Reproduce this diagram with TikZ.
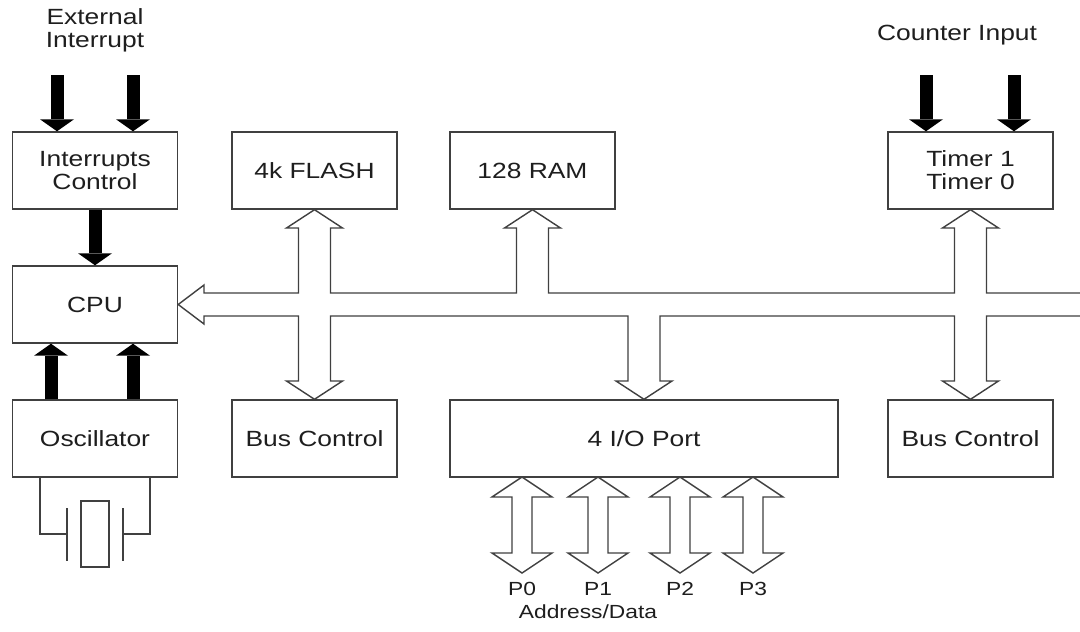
\documentclass[tikz,border=0pt]{standalone}
\usepackage{fontspec}
\setmainfont{Liberation Sans}[FakeStretch=1.2]
\usetikzlibrary{arrows.meta}
\definecolor{linegray}{HTML}{404040}
\definecolor{textgray}{HTML}{1E1E1E}

\begin{document}
\begin{tikzpicture}[x=1pt, y=-1pt, line join=miter,
    every node/.style={text=textgray, font=\fontsize{22}{23}\selectfont},
    block/.style={draw=linegray, line width=1.4pt, minimum width=165pt, minimum height=77pt, align=center, inner sep=0pt},
    fatarrow/.style={line width=13pt, -{Triangle[length=12pt, width=34pt, line width=0pt]}},
    wire/.style={draw=linegray, line width=1.4pt}]
    \path[use as bounding box, fill=white] (0,0) rectangle (1080,632);

    % Blocks
    \node[block] (intc) at (95,170.5) {Interrupts\\Control};
    \node[block] (flash) at (314.5,170.5) {4k FLASH};
    \node[block] (ram) at (532.5,170.5) {128 RAM};
    \node[block] (timer) at (970.5,170.5) {Timer 1\\Timer 0};
    \node[block] (cpu) at (95,304.5) {CPU};
    \node[block] (osc) at (95,438.5) {Oscillator};
    \node[block] (busc1) at (314.5,438.5) {Bus Control};
    \node[block, minimum width=388pt] (io) at (644,438.5) {4 I/O Port};
    \node[block] (busc2) at (970.5,438.5) {Bus Control};

    % Outside labels
    \node[align=center] (extint) at (95,30) {External\\Interrupt};
    \node (cntin) at (957,35) {Counter Input};
    \node[font=\fontsize{19}{21}\selectfont] (addr) at (588,612) {Address/Data};

    % Interrupt and counter inputs
    \coordinate (ei1) at (57,75);
    \coordinate (ei2) at (133,75);
    \coordinate (ci1) at (926,75);
    \coordinate (ci2) at (1014,75);
    \draw[fatarrow] (ei1) -- (ei1 |- intc.north);
    \draw[fatarrow] (ei2) -- (ei2 |- intc.north);
    \draw[fatarrow] (ci1) -- (ci1 |- timer.north);
    \draw[fatarrow] (ci2) -- (ci2 |- timer.north);

    % Interrupts -> CPU, Oscillator -> CPU
    \draw[fatarrow] (intc.south) -- (cpu.north);
    \draw[fatarrow] ([xshift=-44pt]osc.north) -- ([xshift=-44pt]cpu.south);
    \draw[fatarrow] ([xshift=38pt]osc.north) -- ([xshift=38pt]cpu.south);

    % Crystal
    \node[draw=linegray, line width=1.4pt, minimum width=28pt, minimum height=66pt, inner sep=0pt] (xtal) at (95,534) {};
    \coordinate (plL) at (67,534);
    \coordinate (plR) at (123,534);
    \draw[wire] ([xshift=-55pt]osc.south) |- (plL);
    \draw[wire] ([xshift=55pt]osc.south) |- (plR);
    \draw[wire] (67,508) -- (67,561);
    \draw[wire] (123,508) -- (123,561);

    % Internal bus with its branches
    \coordinate (bustop) at (1080,293);
    \coordinate (busbot) at (1080,316);
    \draw[wire] (bustop) -- (986.5,293) -- (986.5,228) -- (998.5,228) -- (timer.south)
        -- (942.5,228) -- (954.5,228) -- (954.5,293)
        -- (548.5,293) -- (548.5,228) -- (560.5,228) -- (ram.south)
        -- (504.5,228) -- (516.5,228) -- (516.5,293)
        -- (330.5,293) -- (330.5,228) -- (342.5,228) -- (flash.south)
        -- (286.5,228) -- (298.5,228) -- (298.5,293)
        -- (204,293) -- (204,285) -- (cpu.east) -- (204,324) -- (204,316)
        -- (298.5,316) -- (298.5,381) -- (286.5,381) -- (busc1.north)
        -- (342.5,381) -- (330.5,381) -- (330.5,316)
        -- (628,316) -- (628,381) -- (616,381) -- (io.north)
        -- (672,381) -- (660,381) -- (660,316)
        -- (954.5,316) -- (954.5,381) -- (942.5,381) -- (busc2.north)
        -- (998.5,381) -- (986.5,381) -- (986.5,316) -- (busbot);

    % Ports
    \foreach \px/\pn in {522/0, 598/1, 680/2, 753/3} {
        \draw[wire] (\px,477) -- ++(30,20) -- ++(-20,0) -- ++(0,56) -- ++(20,0) -- ++(-30,20)
            -- ++(-30,-20) -- ++(20,0) -- ++(0,-56) -- ++(-20,0) -- cycle;
        \node[font=\fontsize{19}{21}\selectfont] (p\pn) at (\px,589) {P\pn};
    }
\end{tikzpicture}
\end{document}
